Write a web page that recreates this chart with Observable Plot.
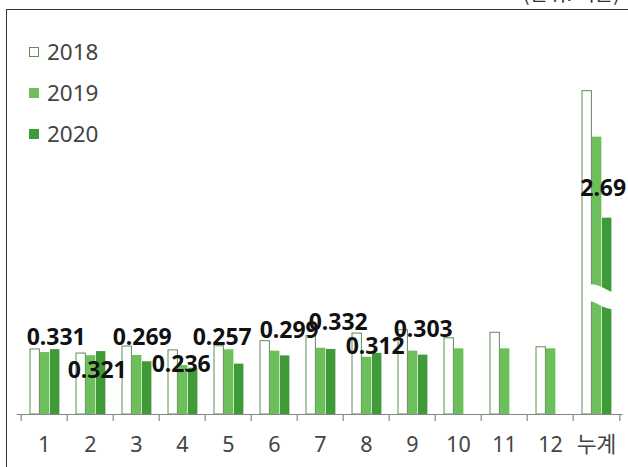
<!DOCTYPE html>
<html><head><meta charset="utf-8">
<script src="https://cdn.jsdelivr.net/npm/d3@7"></script>
<script src="https://cdn.jsdelivr.net/npm/@observablehq/plot@0.6"></script>
<style>
html,body{margin:0;padding:0;background:#fff;}
body{width:628px;height:467px;overflow:hidden;position:relative;font-family:"Noto Sans","Noto Sans CJK KR",sans-serif;}
#frame{position:absolute;left:6px;top:9px;width:640px;height:480px;border-top:1px solid #333;border-left:1px solid #333;}
#unit{position:absolute;right:8px;top:-17px;font-size:20px;line-height:20px;color:#333;font-family:"Noto Sans CJK KR",sans-serif;white-space:nowrap;}
#chart{position:absolute;left:0;top:0;}
#legend{position:absolute;left:29px;top:31px;}
.item{display:flex;align-items:center;height:41px;font-size:22.5px;color:#444;}
.sw{width:10px;height:10px;margin-right:8px;box-sizing:border-box;}
</style></head>
<body>
<div id="frame"></div>
<div id="unit">(단위: 억톤)</div>
<div id="chart"></div>
<div id="legend"></div>
<script>
// ---- data ----
const categories = ["1","2","3","4","5","6","7","8","9","10","11","12","누계"];
const months = categories.slice(0, 12);
const series = ["2018", "2019", "2020"];
const values2018 = [0.332, 0.311, 0.347, 0.327, 0.348, 0.374, 0.400, 0.413, 0.430, 0.389, 0.417, 0.343];
const values2019 = [0.316, 0.300, 0.301, 0.250, 0.330, 0.323, 0.338, 0.292, 0.323, 0.335, 0.335, 0.335];
const values2020 = [0.331, 0.321, 0.269, 0.236, 0.257, 0.299, 0.332, 0.312, 0.303];
const totals = [4.43, 3.80, 2.69];            // 누계 for 2018, 2019, 2020
const labels2020 = ["0.331","0.321","0.269","0.236","0.257","0.299","0.332","0.312","0.303","2.69"];
const axisBreak = [1.66, 1.55];               // broken-axis band on the 누계 bars

// ---- layout / style ----
const colors = {"2018": "#ffffff", "2019": "#6cbf5b", "2020": "#3f9a37"};
const outline2018 = "#5e8f54";
const totalRatio = 0.3724;                    // 누계 bars are drawn on a compressed (broken) scale
const ty = v => v > 1 ? v * totalRatio : v;
const W = 628, H = 467, mL = 16.7, mR = 5.3, mT = 20, mB = 53;
const step = (W - mL - mR) / categories.length;
const barW = 10;
const inset = (step - barW) / 2;
const groupShift = 0.7;
const seriesDx = {"2018": -barW + groupShift, "2019": groupShift, "2020": barW + groupShift};
// label nudges [dx, dy] relative to the 2020 bar top
const labelNudge = [[1,-12],[-4,19.5],[-5,-24.5],[-12,-3.5],[-17,-27],[4,-25.5],[7,-26.5],[-2,-7],[0,-25.5],[-4,-29.5]];

const valuesBySeries = [values2018, values2019, values2020];
const rows = [];
series.forEach((s, i) => {
  valuesBySeries[i].forEach((v, j) => rows.push({cat: months[j], series: s, value: v}));
  rows.push({cat: "누계", series: s, value: totals[i]});
});
const rows2020 = rows.filter(d => d.series === "2020").map((d, i) => ({...d, label: labels2020[i]}));

const barMarks = series.map(s => Plot.barY(rows.filter(d => d.series === s), {
  x: "cat", y: "value", dx: seriesDx[s], insetLeft: inset, insetRight: inset,
  fill: colors[s], stroke: s === "2018" ? outline2018 : "none", strokeWidth: 1
}));

const breakMark = (index, scales) => {
  const {x, y} = scales;
  const cx = x("누계") + x.bandwidth() / 2 + groupShift;
  const ya = y(ty(axisBreak[0])), yb = y(ty(axisBreak[1]));
  const x0 = cx - 7, x1 = cx + 18;
  const g = d3.create("svg:g");
  g.append("path")
    .attr("d", `M${x0},${ya} C${x0 + 12},${ya} ${x1 - 12},${yb} ${x1},${yb}`)
    .attr("fill", "none").attr("stroke", "#fff").attr("stroke-width", 17);
  return g.node();
};

const labelMarks = rows2020.map((d, i) => Plot.text([d], {
  x: "cat", y: "value", text: "label", dx: seriesDx["2020"] + labelNudge[i][0], dy: labelNudge[i][1],
  fontSize: 23, fontWeight: "bold", fill: "#111", fontFamily: "Noto Sans, sans-serif"
}));

const chart = Plot.plot({
  width: W, height: H,
  marginLeft: mL, marginRight: mR, marginTop: mT, marginBottom: mB,
  style: {background: "transparent", fontFamily: "Noto Sans, Noto Sans CJK KR, sans-serif", overflow: "visible"},
  x: {type: "band", domain: categories, paddingInner: 0, paddingOuter: 0, axis: null},
  y: {domain: [0, (H - mB - mT) / 196], transform: ty, axis: null},
  marks: [
    ...barMarks,
    breakMark,
    Plot.ruleY([0], {stroke: "#888", strokeWidth: 1.2}),
    Plot.axisX({tickSize: 7, dx: -step / 2, tickFormat: () => "", label: null, stroke: "#888", strokeWidth: 1.2}),
    Plot.axisX(["누계"], {tickSize: 7, dx: step / 2, tickFormat: () => "", label: null, stroke: "#888", strokeWidth: 1.2}),
    Plot.axisX({tickSize: 0, tickPadding: 22, fontSize: 21.5, fill: "#444", label: null,
      fontFamily: "Noto Sans, Noto Sans CJK KR, sans-serif"}),
    ...labelMarks
  ]
});
document.getElementById("chart").appendChild(chart);

// legend
const legend = d3.select("#legend");
series.forEach(s => {
  const it = legend.append("div").attr("class", "item");
  it.append("div").attr("class", "sw")
    .style("background", colors[s])
    .style("border", s === "2018" ? `1px solid ${outline2018}` : "none");
  it.append("span").text(s);
});
</script>
</body></html>
